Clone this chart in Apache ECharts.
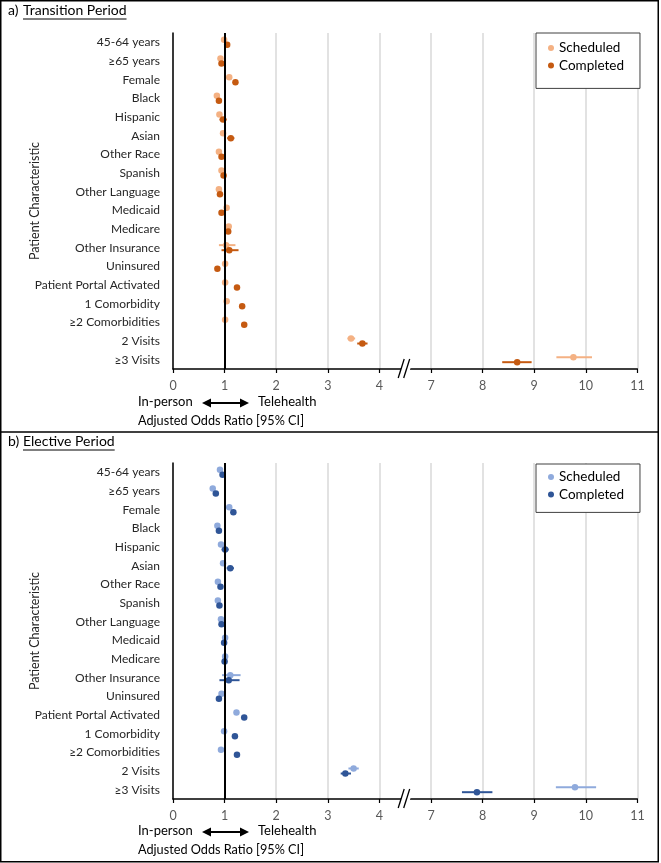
<!DOCTYPE html>
<html><head><meta charset="utf-8">
<script src="https://cdn.jsdelivr.net/npm/echarts@6/dist/echarts.min.js"></script>
<style>html,body{margin:0;padding:0;background:#fff}#c{width:661px;height:863px}</style>
</head><body><div id="c"></div>
<script>
// ---------- data ----------
const categories = ['45-64 years','≥65 years','Female','Black','Hispanic','Asian','Other Race','Spanish','Other Language','Medicaid','Medicare','Other Insurance','Uninsured','Patient Portal Activated','1 Comorbidity','≥2 Comorbidities','2 Visits','≥3 Visits'];
const xTickLabels = ['0','1','2','3','4','7','8','9','10','11'];

// a) Transition Period
const transSched   = [0.99,0.92,1.09,0.85,0.90,0.97,0.89,0.94,0.89,1.04,1.08,1.03,1.01,1.01,1.04,1.01,3.45,9.76];
const transSchedLo = [0.95,0.88,1.05,0.81,0.86,0.93,0.85,0.90,0.85,1.00,1.04,0.89,0.97,0.97,1.00,0.97,3.38,9.43];
const transSchedHi = [1.03,0.96,1.13,0.89,0.94,1.01,0.93,0.98,0.93,1.08,1.12,1.21,1.05,1.05,1.08,1.05,3.53,10.12];
const transComp    = [1.05,0.94,1.21,0.89,0.97,1.12,0.94,0.98,0.91,0.94,1.07,1.09,0.86,1.24,1.34,1.38,3.67,8.67];
const transCompLo  = [1.01,0.90,1.17,0.85,0.90,1.05,0.90,0.93,0.87,0.90,1.03,0.94,0.82,1.20,1.30,1.34,3.57,8.38];
const transCompHi  = [1.09,0.98,1.25,0.93,1.04,1.19,0.98,1.03,0.95,0.98,1.11,1.27,0.90,1.28,1.38,1.42,3.77,8.95];

// b) Elective Period
const electSched   = [0.91,0.77,1.09,0.86,0.93,0.97,0.87,0.87,0.93,1.01,1.01,1.11,0.94,1.23,0.99,0.93,3.50,9.79];
const electSchedLo = [0.87,0.73,1.05,0.82,0.89,0.93,0.83,0.83,0.89,0.97,0.97,0.95,0.90,1.19,0.95,0.89,3.40,9.42];
const electSchedHi = [0.95,0.81,1.13,0.90,0.97,1.01,0.91,0.91,0.97,1.05,1.05,1.31,0.98,1.27,1.03,0.97,3.60,10.20];
const electComp    = [0.96,0.83,1.17,0.89,1.01,1.11,0.92,0.90,0.94,0.99,1.00,1.08,0.89,1.38,1.20,1.24,3.34,7.89];
const electCompLo  = [0.92,0.79,1.13,0.85,0.94,1.04,0.88,0.86,0.90,0.95,0.96,0.90,0.85,1.34,1.16,1.20,3.25,7.60];
const electCompHi  = [1.00,0.87,1.21,0.93,1.08,1.18,0.96,0.94,0.98,1.03,1.04,1.29,0.93,1.42,1.24,1.28,3.45,8.19];

// ---------- helpers ----------
const FONT = 'Lato';
const toPos = v => (v <= 4 ? v : v - 2);   // broken axis 4 | 7
const OFF = 0.135;
const C = {aS:'#F4B183', aC:'#C55A11', bS:'#8FAADC', bC:'#2F5597'};

const GL = 173, GW = 464.4, GH = 336;
const grids = [{left:GL, top:33, width:GW, height:GH}, {left:GL, top:463, width:GW, height:GH}];

function pts(vals, off){ return vals.map((v,i)=>[toPos(v), i+0.5+off]); }
function bars(lo, hi, off){ return lo.map((l,i)=>[toPos(l), toPos(hi[i]), i+0.5+off]); }
function errSeries(gi, lo, hi, off, color){
  return {type:'custom', xAxisIndex:gi, yAxisIndex:gi*2+1, silent:true, z:3,
    data: bars(lo,hi,off), encode:{x:[0,1], y:2},
    renderItem:(params, api)=>{
      const p1 = api.coord([api.value(0), api.value(2)]);
      const p2 = api.coord([api.value(1), api.value(2)]);
      return {type:'line', shape:{x1:p1[0],y1:p1[1],x2:p2[0],y2:p2[1]}, style:{stroke:color, lineWidth:2}};
    }};
}
function dotSeries(gi, name, vals, off, color){
  return {type:'scatter', name, xAxisIndex:gi, yAxisIndex:gi*2+1, data:pts(vals,off),
    symbol:'circle', symbolSize:6.5, itemStyle:{color, opacity:1}, z:4, silent:true};
}

const xAxes = grids.map((g,i)=>({type:'value', gridIndex:i, min:0, max:9, interval:1,
  axisLine:{show:true, onZero:false, lineStyle:{color:'#000', width:1.5}},
  axisTick:{show:true, length:4, lineStyle:{color:'#000', width:1.2}},
  axisLabel:{color:'#595959', fontFamily:FONT, fontSize:12.5, margin:10, formatter:v=>xTickLabels[Math.round(v)]},
  splitLine:{show:true, lineStyle:{color:'#D9D9D9', width:1.5}}}));
const yAxes = [];
grids.forEach((g,i)=>{
  yAxes.push({type:'category', gridIndex:i, data:categories, inverse:true,
    axisLine:{show:true, lineStyle:{color:'#000', width:1.5}}, axisTick:{show:false},
    axisLabel:{color:'#262626', fontFamily:FONT, fontSize:12, margin:13},
    name:'Patient Characteristic', nameLocation:'middle', nameGap:132, nameRotate:90, nameMoveOverlap:false,
    nameTextStyle:{color:'#262626', fontFamily:FONT, fontSize:12.5}});
  yAxes.push({type:'value', gridIndex:i, min:0, max:18, inverse:true, show:false});
});

const refLine = gi => ({type:'line', xAxisIndex:gi, yAxisIndex:gi*2+1, data:[], silent:true, z:5,
  markLine:{silent:true, symbol:'none', label:{show:false}, lineStyle:{color:'#000', width:2, type:'solid'},
    data:[{xAxis:1}]}});

function xLabels(ay){
  return [
    {type:'text', left:138, top:ay-8, style:{text:'In-person', fill:'#000', font:'13px '+FONT}},
    {type:'line', shape:{x1:209, y1:ay, x2:242, y2:ay}, style:{stroke:'#000', lineWidth:2}},
    {type:'polygon', shape:{points:[[202,ay],[211,ay-4.5],[211,ay+4.5]]}, style:{fill:'#000'}},
    {type:'polygon', shape:{points:[[249,ay],[240,ay-4.5],[240,ay+4.5]]}, style:{fill:'#000'}},
    {type:'text', left:258, top:ay-8, style:{text:'Telehealth', fill:'#000', font:'13px '+FONT}},
    {type:'text', left:138, top:ay+11, style:{text:'Adjusted Odds Ratio [95% CI]', fill:'#000', font:'12.7px '+FONT}}
  ];
}
function breakMark(axisY){
  const cx = GL + 4.5*GW/9;
  return [
    {type:'polygon', shape:{points:[[cx-7,axisY+9],[cx+2,axisY+9],[cx+8,axisY-9],[cx-1,axisY-9]]}, style:{fill:'#fff'}, z:100},
    {type:'line', shape:{x1:cx-7, y1:axisY+9, x2:cx-1, y2:axisY-10}, style:{stroke:'#000', lineWidth:1.3}, z:101},
    {type:'line', shape:{x1:cx-1.5, y1:axisY+9, x2:cx+4.5, y2:axisY-10}, style:{stroke:'#000', lineWidth:1.3}, z:101}
  ];
}
const TFONT = '14px ' + FONT;
function textW(t, f){ const c = document.createElement('canvas').getContext('2d'); c.font = f; return c.measureText(t).width; }
function title(y, pre, txt){
  const uw = textW(txt, TFONT);
  return [
    {type:'text', left:8, top:y, style:{text:pre, fill:'#000', font:TFONT}},
    {type:'text', left:23, top:y, style:{text:txt, fill:'#000', font:TFONT}},
    {type:'line', shape:{x1:23, y1:y+16, x2:23+uw, y2:y+16}, style:{stroke:'#000', lineWidth:1}}
  ];
}

const legendBase = {orient:'vertical', icon:'circle', itemWidth:6, itemHeight:6, itemGap:1.4, itemTextGap:8,
  backgroundColor:'#fff', borderColor:'#404040', borderWidth:1, selectedMode:false,
  textStyle:{fontFamily:FONT, fontSize:13.5, color:'#000', lineHeight:16}};

const chart = echarts.init(document.getElementById('c'), null, {renderer:'canvas'});
chart.setOption({
  animation:false,
  grid:grids,
  xAxis:xAxes,
  yAxis:yAxes,
  legend:[
    Object.assign({}, legendBase, {left:536, top:33, padding:[7,16,15,12], data:['Scheduled','Completed']}),
    Object.assign({}, legendBase, {left:536, top:464, padding:[5,16,10,12], data:['Scheduled (b)','Completed (b)'],
      formatter:n=>n.replace(' (b)','')})
  ],
  series:[
    errSeries(0, transSchedLo, transSchedHi, -OFF, C.aS),
    errSeries(0, transCompLo, transCompHi, OFF, C.aC),
    dotSeries(0, 'Scheduled', transSched, -OFF, C.aS),
    dotSeries(0, 'Completed', transComp, OFF, C.aC),
    refLine(0),
    errSeries(1, electSchedLo, electSchedHi, -OFF, C.bS),
    errSeries(1, electCompLo, electCompHi, OFF, C.bC),
    dotSeries(1, 'Scheduled (b)', electSched, -OFF, C.bS),
    dotSeries(1, 'Completed (b)', electComp, OFF, C.bC),
    refLine(1)
  ],
  graphic:[
    {type:'rect', shape:{x:0.75, y:0.75, width:657.5, height:861}, style:{fill:null, stroke:'#000', lineWidth:1.5}, silent:true},
    {type:'line', shape:{x1:0, y1:432, x2:658, y2:432}, style:{stroke:'#000', lineWidth:1.5}},
    ...title(3, 'a)', 'Transition Period'),
    ...title(434, 'b)', 'Elective Period'),
    ...xLabels(403),
    ...xLabels(832),
    ...breakMark(33+GH),
    ...breakMark(463+GH)
  ]
});
</script></body></html>
